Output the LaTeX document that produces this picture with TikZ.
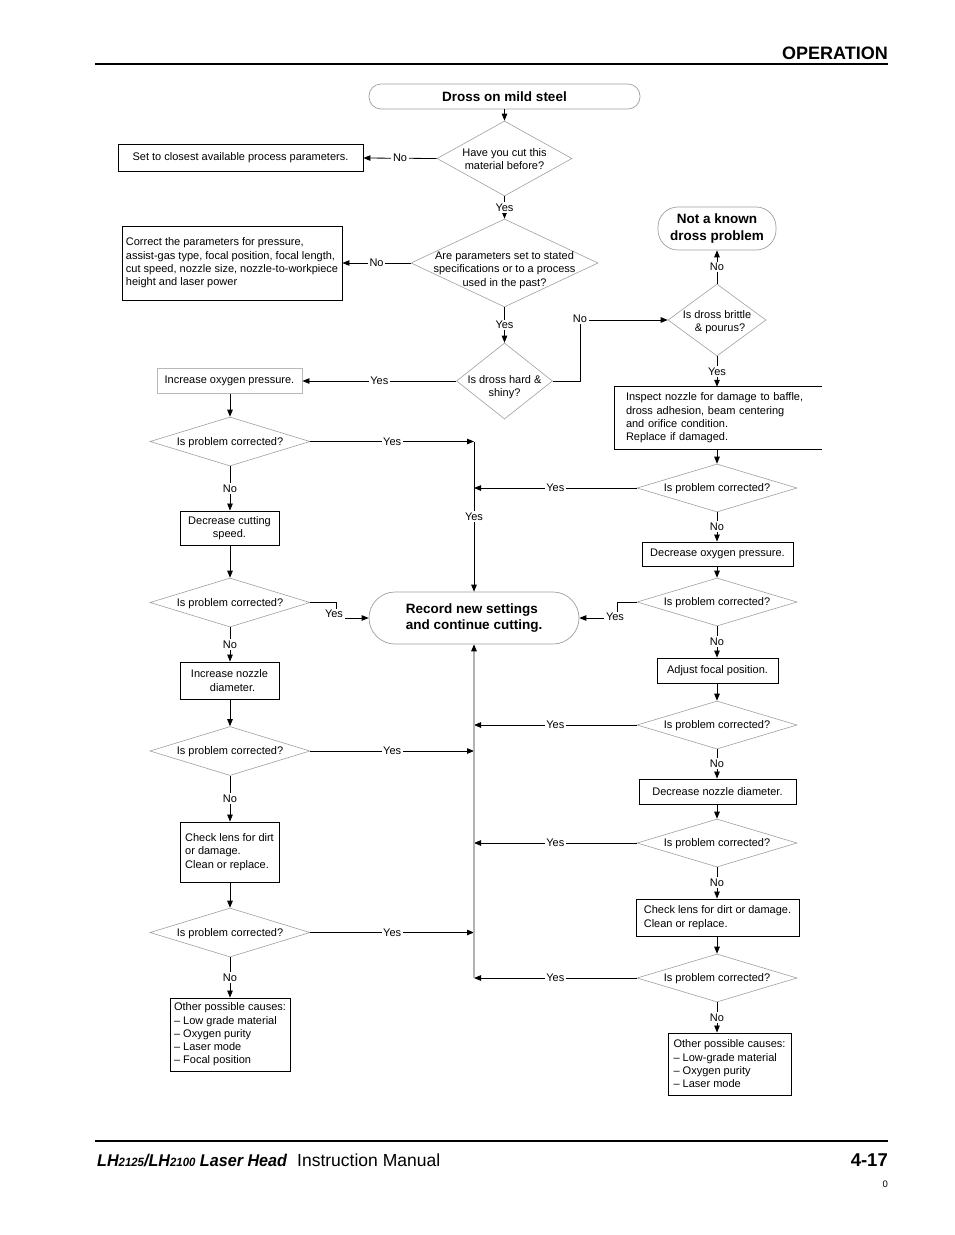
\documentclass[tikz,border=0pt]{standalone}
\usepackage{fontspec}
\setmainfont{Liberation Sans}
\usetikzlibrary{shapes.geometric,arrows.meta}
\begin{document}
\begin{tikzpicture}[x=1pt,y=-1pt,
  base/.style={font=\fontsize{11}{13.3}\selectfont, inner sep=0pt, text=black},
  dtxt/.style={base, align=center, yshift=-1pt},
  box/.style={base, draw=black, line width=0.9pt, align=left},
  gbox/.style={base, draw=gray!55, line width=0.9pt},
  dia/.style={shape=diamond, draw=gray!75, line width=0.6pt, inner sep=0pt},
  term/.style={draw=gray!75, line width=0.7pt, inner sep=0pt, align=left,
    font=\bfseries\fontsize{13.5}{16.6}\selectfont},
  lbl/.style={fill=white, font=\fontsize{11}{13}\selectfont, inner sep=1.6pt},
  conn/.style={line width=0.8pt, -{Triangle[length=7pt,width=5.5pt]}},
  plain/.style={line width=0.8pt},
  greyline/.style={line width=1.1pt, draw=gray!60, -{Triangle[length=7pt,width=5.5pt,black]}}
]
\useasboundingbox (0,0) rectangle (954,1235);

% header / footer
\draw[line width=2.6pt] (95,64) -- (888,64);
\node[anchor=base east, inner sep=0pt, font=\bfseries\fontsize{18}{18}\selectfont] (hdr) at (888,59) {OPERATION};
\draw[line width=2pt] (95,1141) -- (888,1141);
\node[anchor=base west, inner sep=0pt, font=\bfseries\itshape\fontsize{17}{17}\selectfont] (ft1) at (97,1166)
  {\scalebox{0.95}[1]{LH{\fontsize{12}{12}\selectfont 2125}/LH{\fontsize{12}{12}\selectfont 2100} Laser Head}};
\node[anchor=base west, inner sep=0pt, font=\fontsize{17.5}{17.5}\selectfont] (ft2) at (297,1166) {Instruction Manual};
\node[anchor=base east, inner sep=0pt, font=\bfseries\fontsize{18.5}{18.5}\selectfont] (ft3) at (888,1166) {4-17};
\node[anchor=base east, inner sep=0pt, font=\fontsize{9.5}{9.5}\selectfont] (ft4) at (888,1187) {0};

% top part
\node[term, rounded corners=12pt, minimum width=271pt, minimum height=25pt, align=center] (t1) at (504.5,96.5) {Dross on mild steel};
\node[dia, minimum width=135pt, minimum height=75pt] (d1) at (504.5,158.5) {};
\node[dtxt] (d1t) at (504.5,158) {Have you cut this\\material before?};
\node[box, minimum width=245pt, minimum height=27pt, align=center, yshift=-0.5pt] (b1) at (240.5,157.5) {Set to closest available process parameters.};

\node[dia, minimum width=187pt, minimum height=88pt] (d2) at (504.5,263) {};
\node[dtxt] (d2t) at (504.5,269) {Are parameters set to stated\\specifications or to a process\\used in the past?};
\node[box, minimum width=220pt, minimum height=74pt, inner xsep=1.5pt] (b2) at (232,263) {Correct the parameters for pressure,\\assist-gas type, focal position, focal length,\\cut speed, nozzle size, nozzle-to-workpiece\\height and laser power};

\node[dia, minimum width=96pt, minimum height=76pt] (d3) at (504.5,381) {};
\node[dtxt] (d3t) at (504.5,386) {Is dross hard \&\\shiny?};
\node[gbox, minimum width=145pt, minimum height=25pt] (b3) at (229.5,381) {Increase oxygen pressure.};

\node[dia, minimum width=98pt, minimum height=72pt] (d4) at (717,320) {};
\node[dtxt] (d4t) at (717,321) {Is dross brittle\\\ \ \& pourus?};
\node[term, rounded corners=20pt, minimum width=118pt, minimum height=43pt, align=center] (t2) at (717,228.5) {Not a known\\dross problem};

\node[base, minimum width=207pt, minimum height=62pt, inner xsep=11pt, text width=185pt, align=left] (b4) at (718.5,418) {Inspect nozzle for damage to baffle,\\dross adhesion, beam centering\\and orifice condition.\\Replace if damaged.};
\draw[line width=0.9pt] (b4.north east) -- (b4.north west) -- (b4.south west) -- (b4.south east);

% right column
\node[dia, minimum width=160pt, minimum height=48pt] (d5) at (717,488) {};
\node[dtxt] (d5t) at (717,488) {Is problem corrected?};
\node[box, minimum width=151pt, minimum height=24pt] (b5) at (717.5,554) {Decrease oxygen pressure.};
\node[dia, minimum width=160pt, minimum height=48pt] (d6) at (717,602) {};
\node[dtxt] (d6t) at (717,602) {Is problem corrected?};
\node[box, minimum width=121pt, minimum height=25pt] (b6) at (717.5,670.5) {Adjust focal position.};
\node[dia, minimum width=160pt, minimum height=48pt] (d7) at (717,725) {};
\node[dtxt] (d7t) at (717,725) {Is problem corrected?};
\node[box, minimum width=157pt, minimum height=25pt] (b7) at (717.5,791.5) {Decrease nozzle diameter.};
\node[dia, minimum width=160pt, minimum height=48pt] (d8) at (717,843) {};
\node[dtxt] (d8t) at (717,843) {Is problem corrected?};
\node[box, minimum width=163pt, minimum height=37pt] (b8) at (717.5,917.5) {Check lens for dirt or damage.\\Clean or replace.};
\node[dia, minimum width=160pt, minimum height=48pt] (d9) at (717,978) {};
\node[dtxt] (d9t) at (717,978) {Is problem corrected?};
\node[box, minimum width=123pt, minimum height=62pt] (b9) at (729.5,1064) {Other possible causes:\\-- Low-grade material\\-- Oxygen purity\\-- Laser mode};

% left column
\node[dia, minimum width=160pt, minimum height=49pt] (l1) at (230,441.5) {};
\node[dtxt] (l1t) at (230,441.5) {Is problem corrected?};
\node[box, minimum width=99pt, minimum height=34pt, align=center] (m1) at (229.5,528) {Decrease cutting\\speed.};
\node[dia, minimum width=160pt, minimum height=49pt] (l2) at (230,602.5) {};
\node[dtxt] (l2t) at (230,602.5) {Is problem corrected?};
\node[box, minimum width=99pt, minimum height=37pt, align=center] (m2) at (229.5,680.5) {Increase nozzle\\\ \ diameter.};
\node[dia, minimum width=160pt, minimum height=49pt] (l3) at (230,751) {};
\node[dtxt] (l3t) at (230,751) {Is problem corrected?};
\node[box, minimum width=99pt, minimum height=60pt] (m3) at (229.5,852) {Check lens for dirt\\or damage.\\Clean or replace.};
\node[dia, minimum width=160pt, minimum height=49pt] (l4) at (230,932.5) {};
\node[dtxt] (l4t) at (230,932.5) {Is problem corrected?};
\node[box, minimum width=120pt, minimum height=73pt] (m4) at (230,1034.5) {Other possible causes:\\-- Low grade material\\-- Oxygen purity\\-- Laser mode\\-- Focal position};

% centre
\node[term, rounded corners=26pt, minimum width=210pt, minimum height=52pt] (rec) at (474,618) {Record new settings\\and continue cutting.};

\coordinate (cL1) at (474,441.5);
\coordinate (cL3) at (474,751);
\coordinate (cL4) at (474,932.5);
\coordinate (cR5) at (474,488);
\coordinate (cR7) at (474,725);
\coordinate (cR8) at (474,843);
\coordinate (cR9) at (474,978);
\coordinate (k2) at (580,320);
\coordinate (k3) at (617,618);
\coordinate (k4) at (336,618);

% connectors: top
\draw[conn] (t1.south) -- (d1.north);
\draw[conn] (d1.west) -- node[lbl]{No} (b1.east);
\draw[conn] (d1.south) -- node[lbl]{Yes} (d2.north);
\draw[conn] (d2.west) -- node[lbl]{No} (b2.east);
\draw[conn] (d2.south) -- node[lbl]{Yes} (d3.north);
\draw[conn] (d3.west) -- node[lbl]{Yes} (b3.east);
\draw[conn] (d3.east) -| (k2) -- (d4.west);
\node[lbl] (k2l) at (580,319) {No};
\draw[conn] (d4.north) -- node[lbl]{No} (t2.south);
\draw[conn] (d4.south) -- node[lbl]{Yes} (d4.south |- b4.north);
\draw[conn] (d4.south |- b4.south) -- (d5.north);

% right column
\draw[conn] (d5.west) -- node[lbl]{Yes} (cR5);
\draw[conn] (d5.south) -- node[lbl]{No} (d5.south |- b5.north);
\draw[conn] (d6.north |- b5.south) -- (d6.north);
\draw[conn] (d6.west) -| (k3) -- (rec.east);
\node[lbl] (k3l) at (615,617) {Yes};
\draw[conn] (d6.south) -- node[lbl]{No} (d6.south |- b6.north);
\draw[conn] (d7.north |- b6.south) -- (d7.north);
\draw[conn] (d7.west) -- node[lbl]{Yes} (cR7);
\draw[conn] (d7.south) -- node[lbl]{No} (d7.south |- b7.north);
\draw[conn] (d8.north |- b7.south) -- (d8.north);
\draw[conn] (d8.west) -- node[lbl]{Yes} (cR8);
\draw[conn] (d8.south) -- node[lbl]{No} (d8.south |- b8.north);
\draw[conn] (d9.north |- b8.south) -- (d9.north);
\draw[conn] (d9.west) -- node[lbl]{Yes} (cR9);
\draw[conn] (d9.south) -- node[lbl]{No} (d9.south |- b9.north);

% left column
\draw[conn] (l1.north |- b3.south) -- (l1.north);
\draw[conn] (l1.east) -- node[lbl]{Yes} (cL1);
\draw[conn] (l1.south) -- node[lbl]{No} (l1.south |- m1.north);
\draw[conn] (l2.north |- m1.south) -- (l2.north);
\draw[conn] (l2.east) -| (k4) -- (rec.west);
\node[lbl] (k4l) at (334,614) {Yes};
\draw[conn] (l2.south) -- node[lbl]{No} (l2.south |- m2.north);
\draw[conn] (l3.north |- m2.south) -- (l3.north);
\draw[conn] (l3.east) -- node[lbl]{Yes} (cL3);
\draw[conn] (l3.south) -- node[lbl]{No} (l3.south |- m3.north);
\draw[conn] (l4.north |- m3.south) -- (l4.north);
\draw[conn] (l4.east) -- node[lbl]{Yes} (cL4);
\draw[conn] (l4.south) -- node[lbl]{No} (l4.south |- m4.north);

% centre verticals
\draw[conn] (cL1) -- node[lbl]{Yes} (rec.north);
\draw[greyline] (cR9) -- (rec.south);
\end{tikzpicture}
\end{document}
